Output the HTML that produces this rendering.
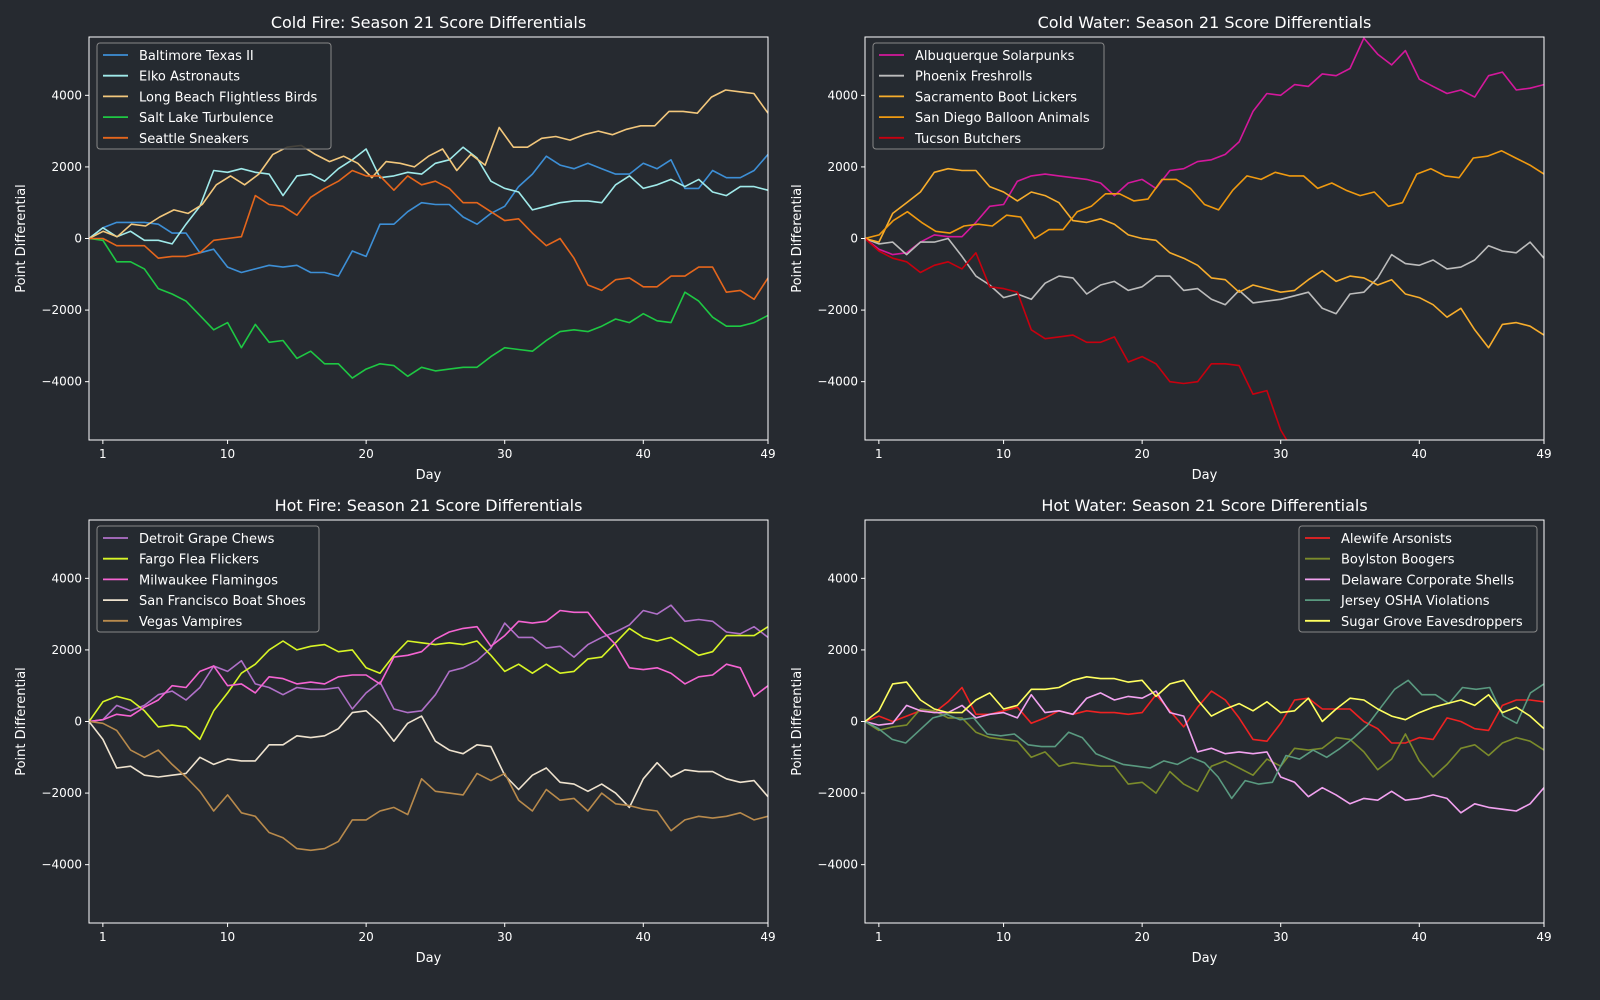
<!DOCTYPE html>
<html><head><meta charset="utf-8"><style>
html,body{margin:0;padding:0;background:#262a30;}
svg{display:block;font-family:"DejaVu Sans","Liberation Sans",sans-serif;}
</style></head><body>
<svg id="s" width="1600" height="1000" xmlns="http://www.w3.org/2000/svg"></svg>
<script>
const panels=[
{x0:89,y0:37,title:"Cold Fire: Season 21 Score Differentials",leg:{x:97,y:43,w:234},series:[
["Baltimore Texas II","#3d8fd6",[0,0.3,0.45,0.45,0.45,0.4,0.15,0.15,-0.4,-0.3,-0.8,-0.95,-0.85,-0.75,-0.8,-0.75,-0.95,-0.95,-1.05,-0.35,-0.5,0.4,0.4,0.75,1.0,0.95,0.95,0.6,0.4,0.7,0.9,1.45,1.8,2.3,2.05,1.95,2.1,1.95,1.8,1.8,2.1,1.95,2.2,1.4,1.4,1.9,1.7,1.7,1.9,2.35]],
["Elko Astronauts","#a0eaea",[0,0.3,0.05,0.2,-0.05,-0.05,-0.15,0.4,0.9,1.9,1.85,1.95,1.85,1.8,1.2,1.75,1.8,1.6,1.95,2.2,2.5,1.7,1.75,1.85,1.8,2.1,2.2,2.55,2.25,1.6,1.4,1.3,0.8,0.9,1.0,1.05,1.05,1.0,1.5,1.75,1.4,1.5,1.65,1.45,1.65,1.3,1.2,1.45,1.45,1.35]],
["Long Beach Flightless Birds","#f2c77c",[0,0.2,0.05,0.4,0.35,0.6,0.8,0.7,0.95,1.5,1.75,1.5,1.8,2.35,2.55,2.6,2.35,2.15,2.3,2.1,1.7,2.15,2.1,2.0,2.3,2.5,1.9,2.35,2.05,3.1,2.55,2.55,2.8,2.85,2.75,2.9,3.0,2.9,3.05,3.15,3.15,3.55,3.55,3.5,3.95,4.15,4.1,4.05,3.5]],
["Salt Lake Turbulence","#1ec843",[0,-0.05,-0.65,-0.65,-0.85,-1.4,-1.55,-1.75,-2.15,-2.55,-2.35,-3.05,-2.4,-2.9,-2.85,-3.35,-3.15,-3.5,-3.5,-3.9,-3.65,-3.5,-3.55,-3.85,-3.6,-3.7,-3.65,-3.6,-3.6,-3.3,-3.05,-3.1,-3.15,-2.85,-2.6,-2.55,-2.6,-2.45,-2.25,-2.35,-2.1,-2.3,-2.35,-1.5,-1.75,-2.2,-2.45,-2.45,-2.35,-2.15]],
["Seattle Sneakers","#e5661c",[0,0,-0.2,-0.2,-0.2,-0.55,-0.5,-0.5,-0.4,-0.05,0,0.05,1.2,0.95,0.9,0.65,1.15,1.4,1.6,1.9,1.75,1.75,1.35,1.75,1.5,1.6,1.4,1.0,1.0,0.75,0.5,0.55,0.15,-0.2,0,-0.55,-1.3,-1.45,-1.15,-1.1,-1.35,-1.35,-1.05,-1.05,-0.8,-0.8,-1.5,-1.45,-1.7,-1.1]]]},
{x0:865,y0:37,title:"Cold Water: Season 21 Score Differentials",leg:{x:873,y:43,w:231},series:[
["Albuquerque Solarpunks","#d4189c",[0,-0.3,-0.45,-0.4,-0.1,0.1,0.05,0.05,0.45,0.9,0.95,1.6,1.75,1.8,1.75,1.7,1.65,1.55,1.2,1.55,1.65,1.4,1.9,1.95,2.15,2.2,2.35,2.7,3.55,4.05,4.0,4.3,4.25,4.6,4.55,4.75,5.6,5.15,4.85,5.25,4.45,4.25,4.05,4.15,3.95,4.55,4.65,4.15,4.2,4.3]],
["Phoenix Freshrolls","#bcbcbc",[0,-0.15,-0.1,-0.45,-0.1,-0.1,0.0,-0.5,-1.05,-1.3,-1.65,-1.55,-1.7,-1.25,-1.05,-1.1,-1.55,-1.3,-1.2,-1.45,-1.35,-1.05,-1.05,-1.45,-1.4,-1.7,-1.85,-1.45,-1.8,-1.75,-1.7,-1.6,-1.5,-1.95,-2.1,-1.55,-1.5,-1.1,-0.45,-0.7,-0.75,-0.6,-0.85,-0.8,-0.6,-0.2,-0.35,-0.4,-0.1,-0.55]],
["Sacramento Boot Lickers","#f7ad2c",[0,-0.1,0.7,1.0,1.3,1.85,1.95,1.9,1.9,1.45,1.3,1.05,1.3,1.2,1.0,0.5,0.45,0.55,0.4,0.1,0.0,-0.05,-0.4,-0.55,-0.75,-1.1,-1.15,-1.5,-1.3,-1.4,-1.5,-1.45,-1.15,-0.9,-1.2,-1.05,-1.1,-1.3,-1.15,-1.55,-1.65,-1.85,-2.2,-1.95,-2.55,-3.05,-2.4,-2.35,-2.45,-2.7]],
["San Diego Balloon Animals","#f09a10",[0,0.1,0.5,0.75,0.45,0.2,0.15,0.35,0.4,0.35,0.65,0.6,0.0,0.25,0.25,0.75,0.9,1.25,1.25,1.05,1.1,1.65,1.65,1.4,0.95,0.8,1.35,1.75,1.65,1.85,1.75,1.75,1.4,1.55,1.35,1.2,1.3,0.9,1.0,1.8,1.95,1.75,1.7,2.25,2.3,2.45,2.25,2.05,1.8]],
["Tucson Butchers","#c8000f",[0,-0.35,-0.55,-0.65,-0.95,-0.75,-0.65,-0.85,-0.4,-1.35,-1.4,-1.5,-2.55,-2.8,-2.75,-2.7,-2.9,-2.9,-2.75,-3.45,-3.3,-3.5,-4.0,-4.05,-4.0,-3.5,-3.5,-3.55,-4.35,-4.25,-5.35,-6.0,-6.5,-7,-7,-7,-7,-7,-7,-7,-7,-7,-7,-7,-7,-7,-7,-7,-7,-7]]]},
{x0:89,y0:520,title:"Hot Fire: Season 21 Score Differentials",leg:{x:97,y:526,w:222},series:[
["Detroit Grape Chews","#b070c8",[0,0.05,0.45,0.3,0.45,0.75,0.85,0.6,0.95,1.55,1.4,1.7,1.05,0.95,0.75,0.95,0.9,0.9,0.95,0.35,0.8,1.1,0.35,0.25,0.3,0.75,1.4,1.5,1.7,2.05,2.75,2.35,2.35,2.05,2.1,1.8,2.15,2.35,2.5,2.7,3.1,3.0,3.25,2.8,2.85,2.8,2.5,2.45,2.65,2.35]],
["Fargo Flea Flickers","#d8f526",[0,0.55,0.7,0.6,0.3,-0.15,-0.1,-0.15,-0.5,0.3,0.8,1.35,1.6,2.0,2.25,2.0,2.1,2.15,1.95,2.0,1.5,1.35,1.85,2.25,2.2,2.15,2.2,2.15,2.25,1.85,1.4,1.6,1.35,1.6,1.35,1.4,1.75,1.8,2.2,2.6,2.35,2.25,2.35,2.1,1.85,1.95,2.4,2.4,2.4,2.65]],
["Milwaukee Flamingos","#f564d2",[0,0.05,0.2,0.15,0.4,0.6,1.0,0.95,1.4,1.55,1.0,1.05,0.8,1.25,1.2,1.05,1.1,1.05,1.25,1.3,1.3,1.05,1.8,1.85,1.95,2.3,2.5,2.6,2.65,2.1,2.4,2.8,2.75,2.8,3.1,3.05,3.05,2.55,2.15,1.5,1.45,1.5,1.35,1.05,1.25,1.3,1.6,1.5,0.7,1.0]],
["San Francisco Boat Shoes","#efe3cf",[0,-0.5,-1.3,-1.25,-1.5,-1.55,-1.5,-1.45,-1.0,-1.2,-1.05,-1.1,-1.1,-0.65,-0.65,-0.4,-0.45,-0.4,-0.2,0.25,0.3,-0.05,-0.55,-0.05,0.15,-0.55,-0.8,-0.9,-0.65,-0.7,-1.5,-1.9,-1.5,-1.3,-1.7,-1.75,-1.95,-1.75,-2.0,-2.4,-1.6,-1.15,-1.55,-1.35,-1.4,-1.4,-1.6,-1.7,-1.65,-2.1]],
["Vegas Vampires","#b88a4c",[0,-0.05,-0.25,-0.8,-1.0,-0.8,-1.2,-1.55,-1.95,-2.5,-2.05,-2.55,-2.65,-3.1,-3.25,-3.55,-3.6,-3.55,-3.35,-2.75,-2.75,-2.5,-2.4,-2.6,-1.6,-1.95,-2.0,-2.05,-1.45,-1.65,-1.45,-2.2,-2.5,-1.9,-2.2,-2.15,-2.5,-2.0,-2.3,-2.35,-2.45,-2.5,-3.05,-2.75,-2.65,-2.7,-2.65,-2.55,-2.75,-2.65]]]},
{x0:865,y0:520,title:"Hot Water: Season 21 Score Differentials",leg:{x:1299,y:526,w:238},series:[
["Alewife Arsonists","#ee2222",[0,0.15,0,0.15,0.3,0.25,0.55,0.95,0.2,0.2,0.3,0.4,-0.05,0.1,0.3,0.2,0.3,0.25,0.25,0.2,0.25,0.75,0.3,-0.15,0.4,0.85,0.6,0.1,-0.5,-0.55,-0.05,0.6,0.65,0.35,0.35,0.35,0.0,-0.2,-0.6,-0.6,-0.45,-0.5,0.1,0.0,-0.2,-0.25,0.45,0.6,0.6,0.55]],
["Boylston Boogers","#7b8b2b",[0,-0.25,-0.15,-0.1,0.35,0.3,0.1,0.1,-0.3,-0.45,-0.5,-0.55,-1.0,-0.85,-1.25,-1.15,-1.2,-1.25,-1.25,-1.75,-1.7,-2.0,-1.4,-1.75,-1.95,-1.25,-1.1,-1.3,-1.5,-1.05,-1.25,-0.75,-0.8,-0.75,-0.45,-0.5,-0.85,-1.35,-1.05,-0.35,-1.1,-1.55,-1.2,-0.75,-0.65,-0.95,-0.6,-0.45,-0.55,-0.8]],
["Delaware Corporate Shells","#f2a2f0",[0,-0.1,-0.05,0.45,0.3,0.25,0.25,0.45,0.1,0.2,0.25,0.1,0.75,0.25,0.3,0.2,0.65,0.8,0.6,0.7,0.65,0.85,0.25,0.15,-0.85,-0.75,-0.9,-0.85,-0.9,-0.85,-1.55,-1.7,-2.1,-1.85,-2.05,-2.3,-2.15,-2.2,-1.95,-2.2,-2.15,-2.05,-2.15,-2.55,-2.3,-2.4,-2.45,-2.5,-2.3,-1.85]],
["Jersey OSHA Violations","#5a9a80",[0,-0.2,-0.5,-0.6,-0.25,0.1,0.2,0.05,0.1,-0.35,-0.4,-0.35,-0.65,-0.7,-0.7,-0.3,-0.45,-0.9,-1.05,-1.2,-1.25,-1.3,-1.1,-1.2,-1.0,-1.15,-1.55,-2.15,-1.65,-1.75,-1.7,-0.95,-1.05,-0.8,-1.0,-0.75,-0.45,-0.1,0.4,0.9,1.15,0.75,0.75,0.5,0.95,0.9,0.95,0.15,-0.05,0.8,1.05]],
["Sugar Grove Eavesdroppers","#ffff60",[0,0.3,1.05,1.1,0.6,0.35,0.25,0.25,0.6,0.8,0.35,0.45,0.9,0.9,0.95,1.15,1.25,1.2,1.2,1.1,1.15,0.7,1.05,1.15,0.6,0.15,0.35,0.5,0.3,0.55,0.25,0.3,0.65,0.0,0.35,0.65,0.6,0.35,0.15,0.05,0.25,0.4,0.5,0.6,0.45,0.75,0.25,0.4,0.15,-0.2]]]}
];
const W=679,H=403,YMAX=5630;
let out="";
panels.forEach((p,pi)=>{
 const xs=d=>p.x0+d*W/49, ys=v=>p.y0+H/2-v*1000*(H/2)/YMAX;
 out+=`<clipPath id="c${pi}"><rect x="${p.x0}" y="${p.y0}" width="${W}" height="${H}"/></clipPath>`;
 out+=`<text x="${p.x0+W/2}" y="${p.y0-9}" fill="#fff" font-size="16" text-anchor="middle">${p.title}</text>`;
 out+=`<g clip-path="url(#c${pi})">`;
 p.series.forEach(s=>{
  const a=s[2],n=a.length;
  const pts=a.map((v,i)=>(xs(i*49/(n-1))).toFixed(1)+","+ys(v).toFixed(1)).join(" ");
  out+=`<polyline points="${pts}" fill="none" stroke="${s[1]}" stroke-width="1.6" stroke-linejoin="round"/>`;
 });
 out+=`</g>`;
 out+=`<rect x="${p.x0}" y="${p.y0}" width="${W}" height="${H}" fill="none" stroke="#fff" stroke-width="1"/>`;
 [1,10,20,30,40,49].forEach(d=>{const x=xs(d);
  out+=`<line x1="${x}" x2="${x}" y1="${p.y0+H}" y2="${p.y0+H+4}" stroke="#fff"/><text x="${x}" y="${p.y0+H+18}" fill="#fff" font-size="12" text-anchor="middle">${d}</text>`;});
 [-4000,-2000,0,2000,4000].forEach(v=>{const y=ys(v/1000);
  out+=`<line x1="${p.x0-4}" x2="${p.x0}" y1="${y}" y2="${y}" stroke="#fff"/><text x="${p.x0-7}" y="${y+4}" fill="#fff" font-size="12" text-anchor="end">${v<0?"\u2212"+(-v):v}</text>`;});
 out+=`<text x="${p.x0+W/2}" y="${p.y0+H+39}" fill="#fff" font-size="13" text-anchor="middle">Day</text>`;
 const lx=p.x0-69,ly=p.y0+H/2;
 out+=`<text transform="translate(${lx+5},${ly}) rotate(-90)" fill="#fff" font-size="13" text-anchor="middle">Point Differential</text>`;
 const L=p.leg;
 out+=`<rect x="${L.x}" y="${L.y}" width="${L.w}" height="106" rx="3" fill="#262a30" fill-opacity="0.85" stroke="#888" stroke-width="1"/>`;
 p.series.forEach((s,i)=>{const y=L.y+12+i*20.7;
  out+=`<line x1="${L.x+6}" x2="${L.x+31}" y1="${y}" y2="${y}" stroke="${s[1]}" stroke-width="1.8"/><text x="${L.x+42}" y="${y+5}" fill="#fff" font-size="13">${s[0]}</text>`;});
});
document.getElementById("s").innerHTML=out;
</script>
</body></html>
